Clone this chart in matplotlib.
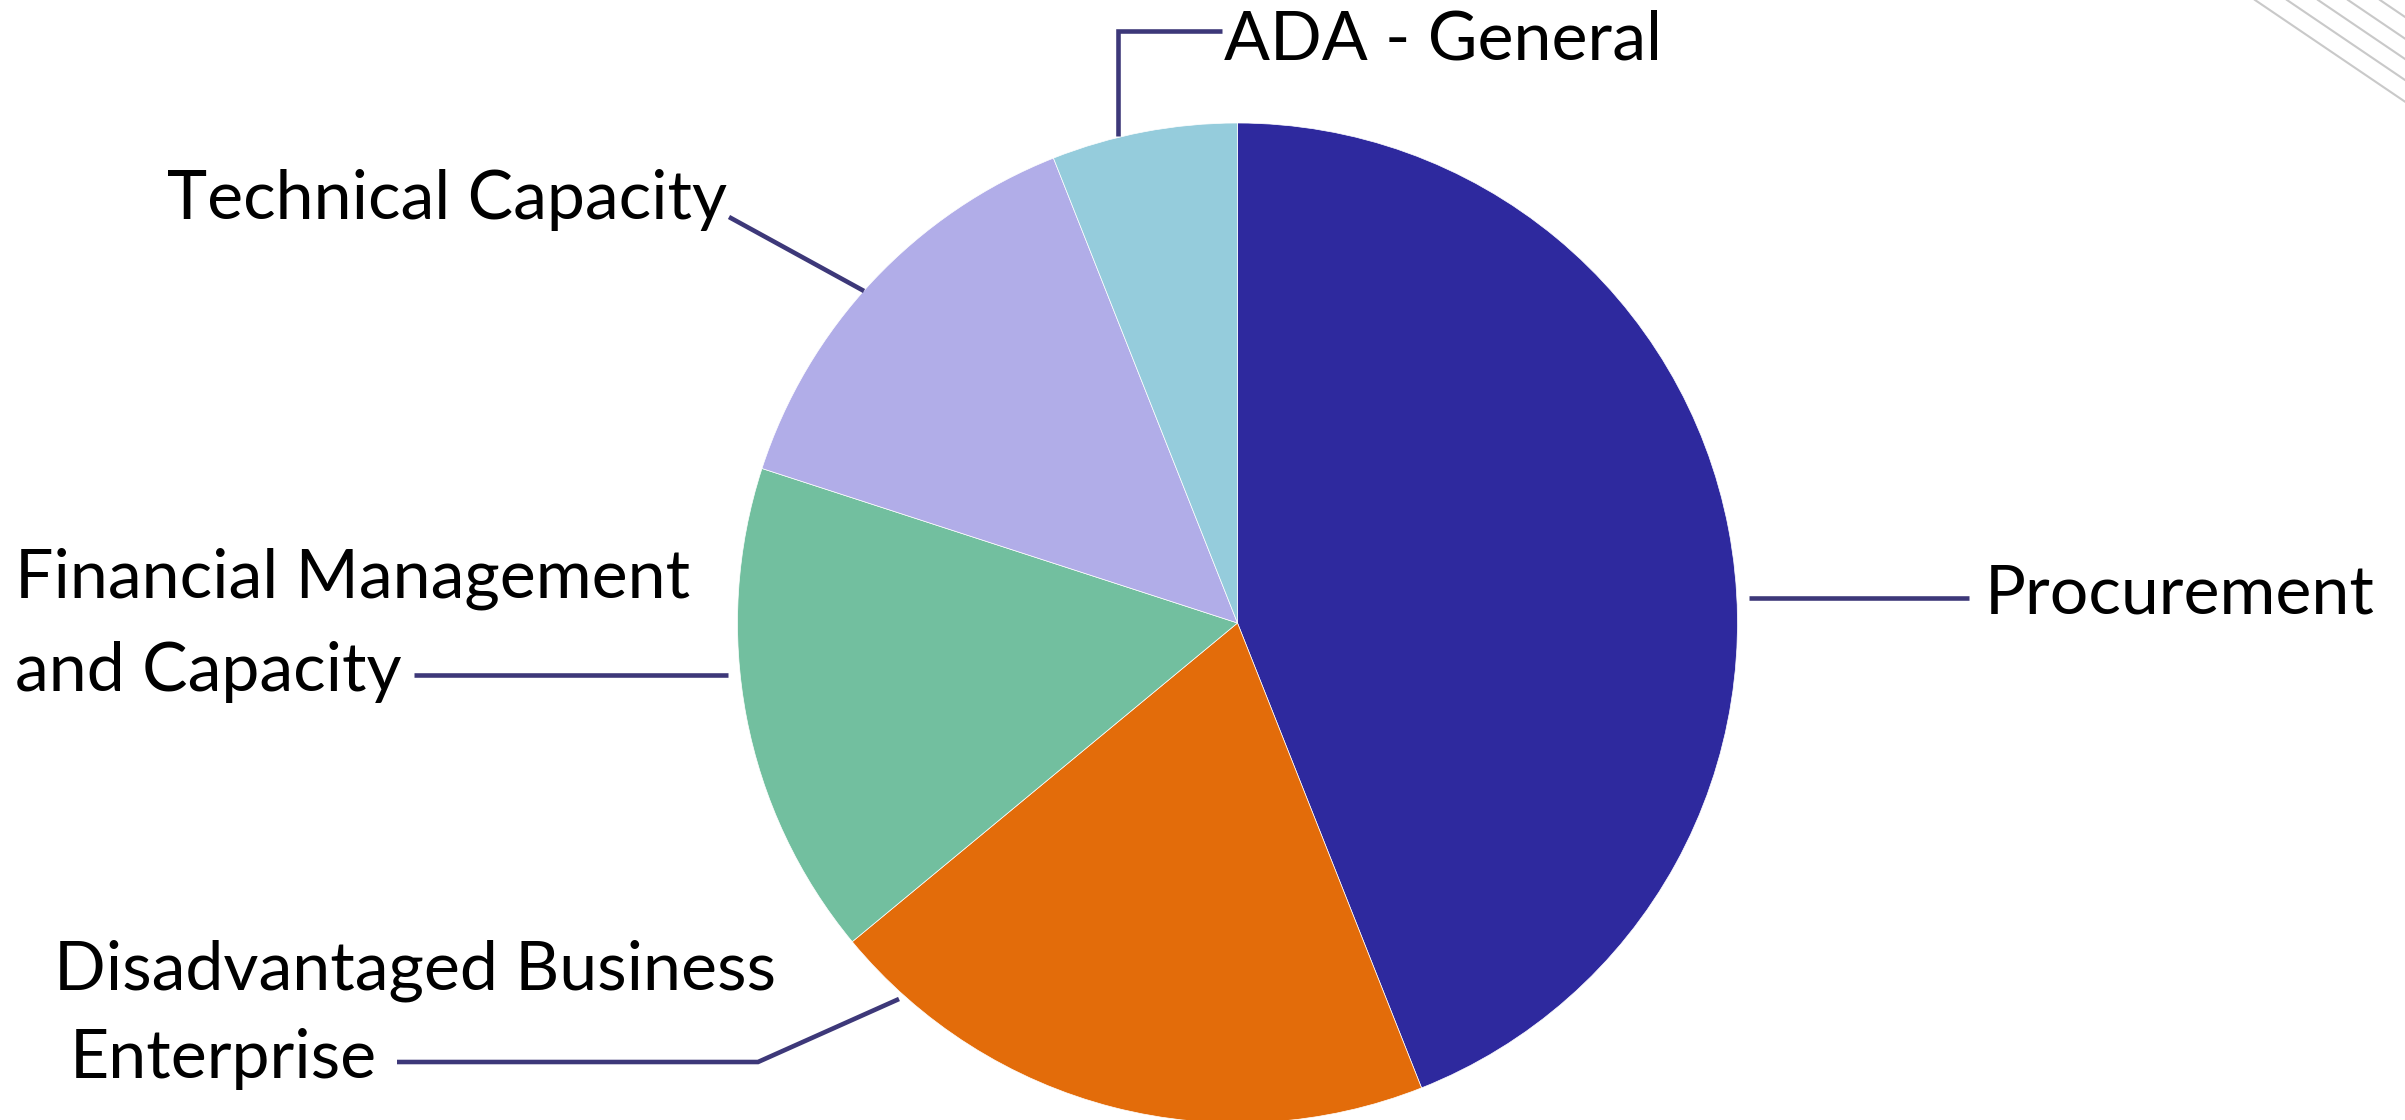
import matplotlib
matplotlib.use("Agg")
from matplotlib import pyplot as plt

W, H = 2405, 1120

LABELS = ["Procurement",
          "Disadvantaged Business\nEnterprise",
          "Financial Management\nand Capacity",
          "Technical Capacity",
          "ADA - General"]
COUNTS = [22, 10, 8, 7, 3]
COLORS = ["#2E299E", "#E36C0A", "#72BF9F", "#B1ADE8", "#95CCDC"]

LINE_COLOR = "#3D3879"
FONT_SIZE = 49

# label layout in pixels from the top-left corner:
# (ha, [(x, baseline) per text line], leader line points)
LAYOUT = {
    "Procurement": ("left", [(1985, 614)], [(1749, 598), (1969, 598)]),
    "Disadvantaged Business\nEnterprise": ("left", [(54, 989), (70, 1078)],
                                           [(899, 999), (758, 1062), (397, 1062)]),
    "Financial Management\nand Capacity": ("left", [(15, 597), (15, 691)],
                                           [(728, 675), (414, 675)]),
    "Technical Capacity": ("right", [(727, 219)], [(864, 291), (729, 217)]),
    "ADA - General": ("left", [(1224, 60)], [(1118, 136), (1118, 31), (1222, 31)]),
}

plt.rcParams["font.family"] = ["Lato", "DejaVu Sans"]

fig = plt.figure(figsize=(W / 100, H / 100), dpi=100)
ax = fig.add_axes([0, 0, 1, 1])

CX, CY, R = 1237.5, 623, 500
ax.pie(COUNTS, colors=COLORS, startangle=90, counterclock=False,
       center=(CX, H - CY), radius=R,
       wedgeprops=dict(linewidth=0.5, edgecolor="white"))
ax.set_xlim(0, W)
ax.set_ylim(0, H)
ax.set_aspect("auto")
ax.axis("off")

for label in LABELS:
    ha, lines, leader = LAYOUT[label]
    for (x, base), txt in zip(lines, label.split("\n")):
        ax.text(x, H - base, txt, ha=ha, va="baseline", fontsize=FONT_SIZE, color="black")
    ax.plot([p[0] for p in leader], [H - p[1] for p in leader],
            color=LINE_COLOR, lw=3.3, solid_capstyle="butt", solid_joinstyle="miter")

# grey diagonal decoration in the top right corner
for x0 in [2255, 2287, 2318, 2348, 2380]:
    ax.plot([x0, x0 + 300], [H, H - 300 * 0.678], color="#C9C9C9", lw=1.5, clip_on=True)

fig.savefig("out.png", dpi=100)
plt.close(fig)
